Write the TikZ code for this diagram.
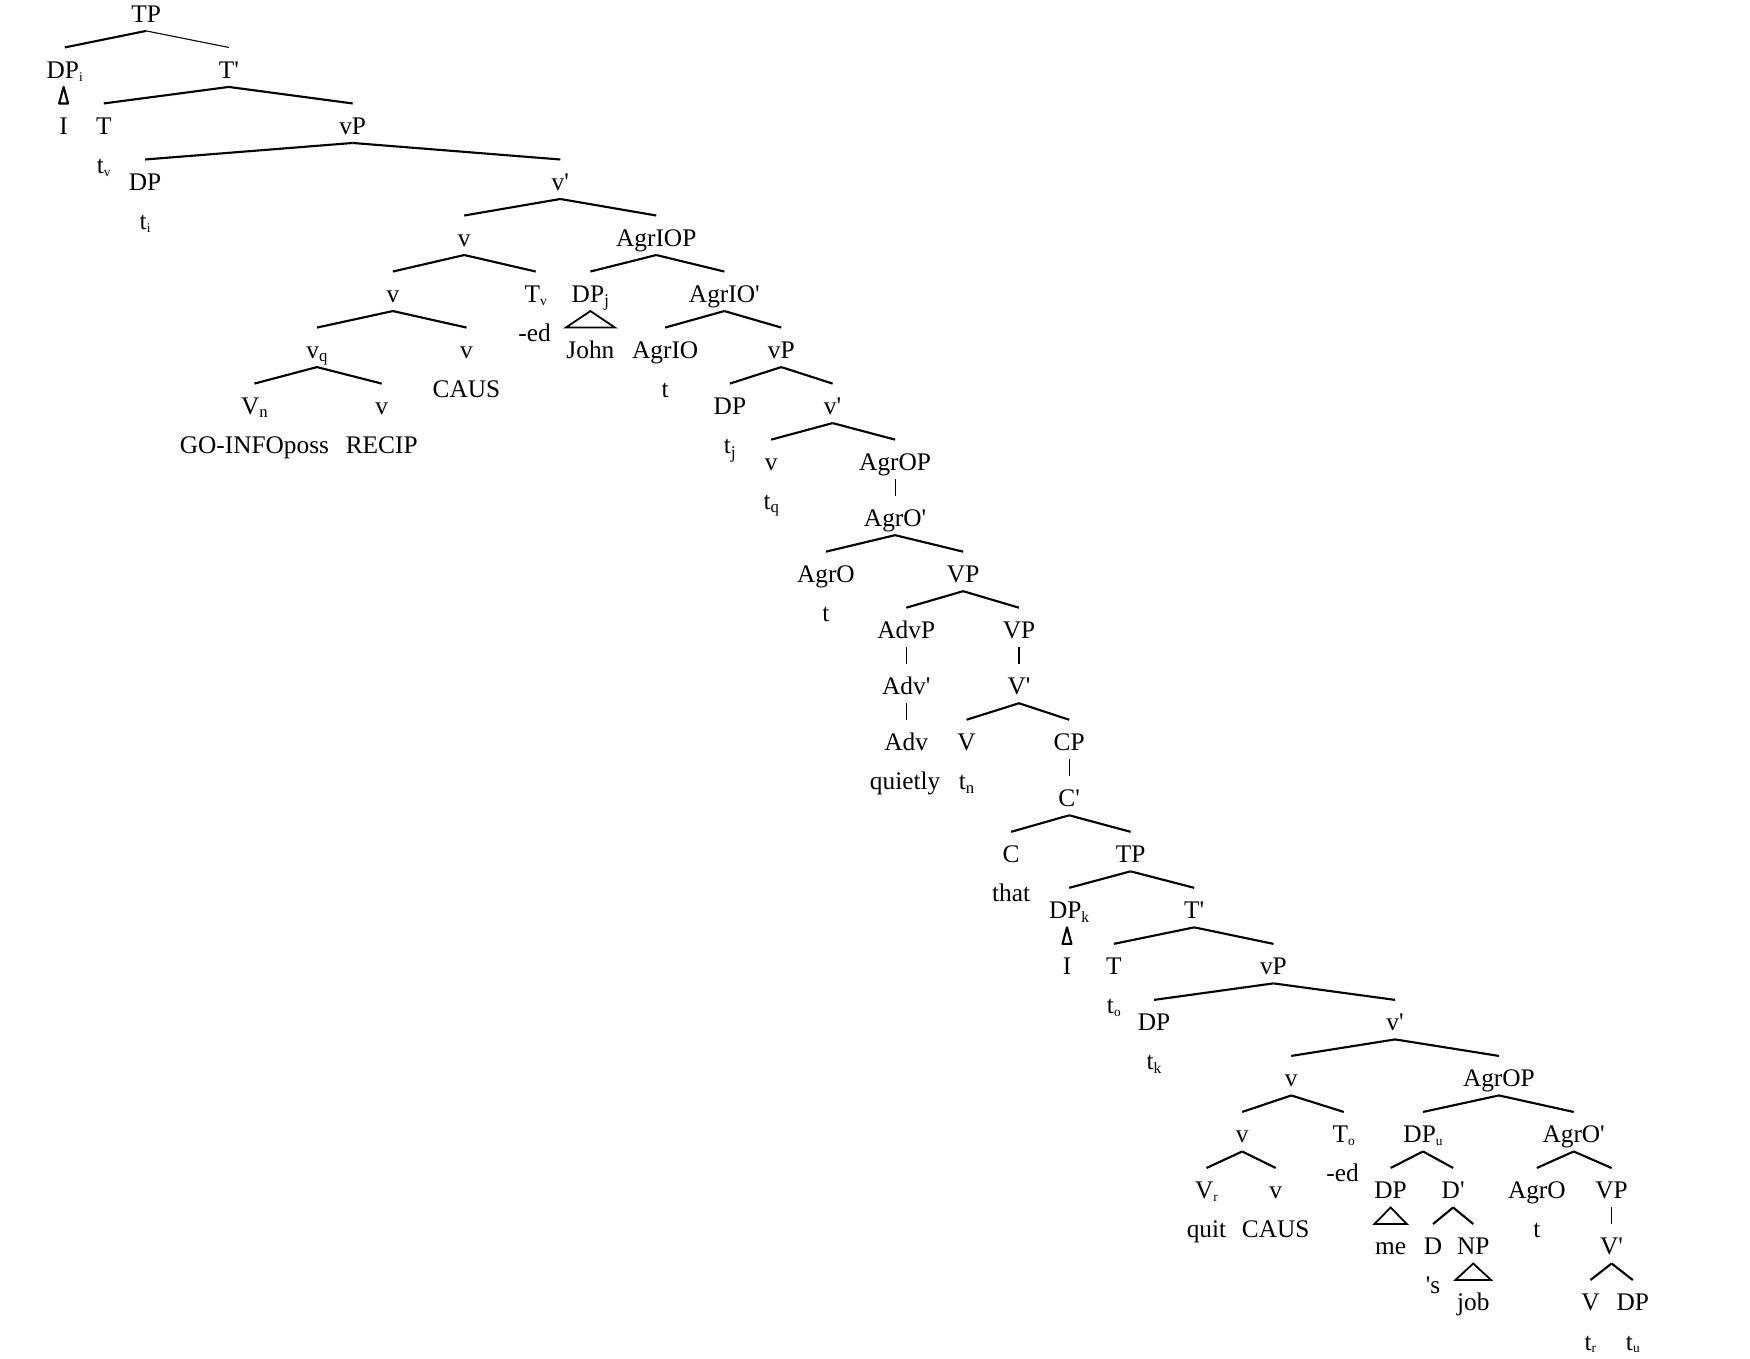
\documentclass[tikz,border=0pt]{standalone}
\usepackage{fontspec}
\setmainfont{Liberation Serif}
% straight prime and subscripts used in the labels
\newcommand\pr{\textquotesingle}
\newcommand\sbs[1]{\raisebox{-2.5pt}{\fontsize{12}{12}\selectfont #1}}
\newcommand\sbk[1]{\raisebox{-3.5pt}{\fontsize{14}{14}\selectfont #1}}
\newcommand\sbq[1]{\raisebox{-3pt}{\fontsize{15}{15}\selectfont #1}}
\newcommand\sbj[1]{\raisebox{-4pt}{\fontsize{16}{16}\selectfont #1}}

\begin{document}
\begin{tikzpicture}[x=1pt,y=-1pt,
  every node/.style={font=\fontsize{22.7}{26}\selectfont, inner sep=0pt},
  lbl/.style={anchor=base, text height=27.5pt, text depth=7.5pt},
  leaf/.style={anchor=base},
  br/.style={line width=1.9pt},
  thinbr/.style={line width=1pt},
  unary/.style={line width=1pt},
  tri/.style={line width=1.6pt, line join=miter},
  smalltri/.style={line width=1.9pt, line join=round}]
\fill[white] (0,0) rectangle (1568,1217);
\useasboundingbox (0,0) rectangle (1568,1217);

% matrix clause
\node[lbl] (TPa) at (131,20) {TP};
\node[lbl] (DPi) at (58,70.2) {DP\sbs{i}};
\node[lbl] (Tba) at (205,70.2) {T\pr};
\node[lbl] (Ia) at (57,120.4) {I};
\node[lbl] (Ta) at (93,120.4) {T};
\node[lbl] (vPa) at (316,120.4) {vP};
\node[leaf] (tv) at (93,155.4) {t\sbs{v}};
\node[lbl] (DPa) at (130,170.6) {DP};
\node[lbl] (vba) at (502,170.6) {v\pr};
\node[leaf] (ti) at (130,205.6) {t\sbs{i}};
\node[lbl] (va) at (416,220.8) {v};
\node[lbl] (AgrIOP) at (588,220.8) {AgrIOP};
\node[lbl] (vb) at (352,271) {v};
\node[lbl] (Tv) at (480,271) {T\sbs{v}};
\node[lbl] (DPj) at (529,271) {DP\sbj{j}};
\node[lbl] (AgrIOb) at (649,271) {AgrIO\pr};
\node[leaf] (eda) at (479,306) {-ed};
\node[lbl] (vq) at (284,321.2) {v\sbq{q}};
\node[lbl] (vc) at (418,321.2) {v};
\node[lbl] (John) at (529,321.2) {John};
\node[lbl] (AgrIO) at (596,321.2) {AgrIO};
\node[lbl] (vPb) at (700,321.2) {vP};
\node[leaf] (causa) at (418,356.2) {CAUS};
\node[leaf] (ta) at (596,356.2) {t};
\node[lbl] (Vn) at (228,371.4) {V\sbq{n}};
\node[lbl] (vd) at (342,371.4) {v};
\node[lbl] (DPb) at (654,371.4) {DP};
\node[lbl] (vbb) at (746,371.4) {v\pr};
\node[leaf] (go) at (228,406.4) {GO-INFOposs};
\node[leaf] (recip) at (342,406.4) {RECIP};
\node[leaf] (tj) at (654,406.4) {t\sbj{j}};
\node[lbl] (ve) at (691,421.6) {v};
\node[lbl] (AgrOPa) at (802,421.6) {AgrOP};
\node[leaf] (tq) at (691,456.6) {t\sbq{q}};
\node[lbl] (AgrOba) at (802,471.8) {AgrO\pr};
\node[lbl] (AgrOa) at (740,522) {AgrO};
\node[lbl] (VPa) at (863,522) {VP};
\node[leaf] (tb) at (740,557) {t};
\node[lbl] (AdvP) at (812,572.2) {AdvP};
\node[lbl] (VPb) at (913,572.2) {VP};
\node[lbl] (Advb) at (812,622.4) {Adv\pr};
\node[lbl] (Vba) at (913,622.4) {V\pr};
\node[lbl] (Adv) at (812,672.6) {Adv};
\node[lbl] (Va) at (866,672.6) {V};
\node[lbl] (CP) at (958,672.6) {CP};
\node[leaf] (quietly) at (811,707.6) {quietly};
\node[leaf] (tn) at (866,707.6) {t\sbq{n}};
% embedded clause
\node[lbl] (Cb) at (958,722.8) {C\pr};
\node[lbl] (C) at (906,773) {C};
\node[lbl] (TPb) at (1013,773) {TP};
\node[leaf] (that) at (906,808) {that};
\node[lbl] (DPk) at (958,823.2) {DP\sbk{k}};
\node[lbl] (Tbb) at (1070,823.2) {T\pr};
\node[lbl] (Ib) at (956,873.4) {I};
\node[lbl] (Tb) at (998,873.4) {T};
\node[lbl] (vPc) at (1141,873.4) {vP};
\node[leaf] (to) at (998,908.4) {t\sbs{o}};
\node[lbl] (DPc) at (1034,923.6) {DP};
\node[lbl] (vbc) at (1250,923.6) {v\pr};
\node[leaf] (tk) at (1034,958.6) {t\sbk{k}};
\node[lbl] (vf) at (1157,973.8) {v};
\node[lbl] (AgrOPb) at (1343,973.8) {AgrOP};
\node[lbl] (vg) at (1113,1024) {v};
\node[lbl] (To) at (1204,1024) {T\sbs{o}};
\node[lbl] (DPu) at (1275,1024) {DP\sbs{u}};
\node[lbl] (AgrObb) at (1410,1024) {AgrO\pr};
\node[leaf] (edb) at (1203,1059) {-ed};
\node[lbl] (Vr) at (1081,1074.2) {V\sbs{r}};
\node[lbl] (vh) at (1143,1074.2) {v};
\node[lbl] (DPd) at (1246,1074.2) {DP};
\node[lbl] (Db) at (1302,1074.2) {D\pr};
\node[lbl] (AgrOb) at (1377,1074.2) {AgrO};
\node[lbl] (VPc) at (1444,1074.2) {VP};
\node[leaf] (quit) at (1081,1109.2) {quit};
\node[leaf] (causb) at (1143,1109.2) {CAUS};
\node[leaf] (tc) at (1377,1109.2) {t};
\node[lbl] (me) at (1246,1124.4) {me};
\node[lbl] (D) at (1284,1124.4) {D};
\node[lbl] (NP) at (1320,1124.4) {NP};
\node[lbl] (Vbb) at (1444,1124.4) {V\pr};
\node[leaf] (s) at (1284,1159.4) {\pr s};
\node[lbl] (job) at (1320,1174.6) {job};
\node[lbl] (Vb) at (1425,1174.6) {V};
\node[lbl] (DPe) at (1463,1174.6) {DP};
\node[leaf] (tr) at (1425,1209.6) {t\sbs{r}};
\node[leaf] (tu) at (1463,1209.6) {t\sbs{u}};

% branching edges
\foreach \p/\c in {TPa/DPi, Tba/Ta, Tba/vPa, vPa/DPa, vPa/vba,
  vba/va, vba/AgrIOP, va/vb, va/Tv, AgrIOP/DPj, AgrIOP/AgrIOb,
  vb/vq, vb/vc, AgrIOb/AgrIO, AgrIOb/vPb, vq/Vn, vq/vd,
  vPb/DPb, vPb/vbb, vbb/ve, vbb/AgrOPa, AgrOba/AgrOa, AgrOba/VPa,
  VPa/AdvP, VPa/VPb, Vba/Va, Vba/CP, Cb/C, Cb/TPb, TPb/DPk, TPb/Tbb,
  Tbb/Tb, Tbb/vPc, vPc/DPc, vPc/vbc, vbc/vf, vbc/AgrOPb, vf/vg, vf/To,
  AgrOPb/DPu, AgrOPb/AgrObb, vg/Vr, vg/vh, DPu/DPd, DPu/Db,
  AgrObb/AgrOb, AgrObb/VPc, Db/D, Db/NP, Vbb/Vb, Vbb/DPe}
  \draw[br] (\p.south) -- (\c.north);
\draw[thinbr] (TPa.south) -- (Tba.north);

% non-branching edges
\foreach \p/\c in {AgrOPa/AgrOba, AdvP/Advb, Advb/Adv, VPb/Vba, CP/Cb, VPc/Vbb}
  \draw[unary] (\p.south) -- (\c.north);

% roofs over unanalysed constituents
\draw[smalltri] ([xshift=-1pt]DPi.south) -- ([xshift=-4pt]Ia.north) -- ([xshift=4pt]Ia.north) -- cycle;
\draw[smalltri] ([xshift=-2pt]DPk.south) -- ([xshift=-4pt]Ib.north) -- ([xshift=4pt]Ib.north) -- cycle;
\draw[tri] (DPj.south) -- ([xshift=-22pt]John.north) -- ([xshift=22pt]John.north) -- cycle;
\draw[tri] (DPd.south) -- ([xshift=-14.5pt]me.north) -- ([xshift=14.5pt]me.north) -- cycle;
\draw[tri] (NP.south) -- ([xshift=-16pt]job.north) -- ([xshift=16pt]job.north) -- cycle;
\end{tikzpicture}
\end{document}
